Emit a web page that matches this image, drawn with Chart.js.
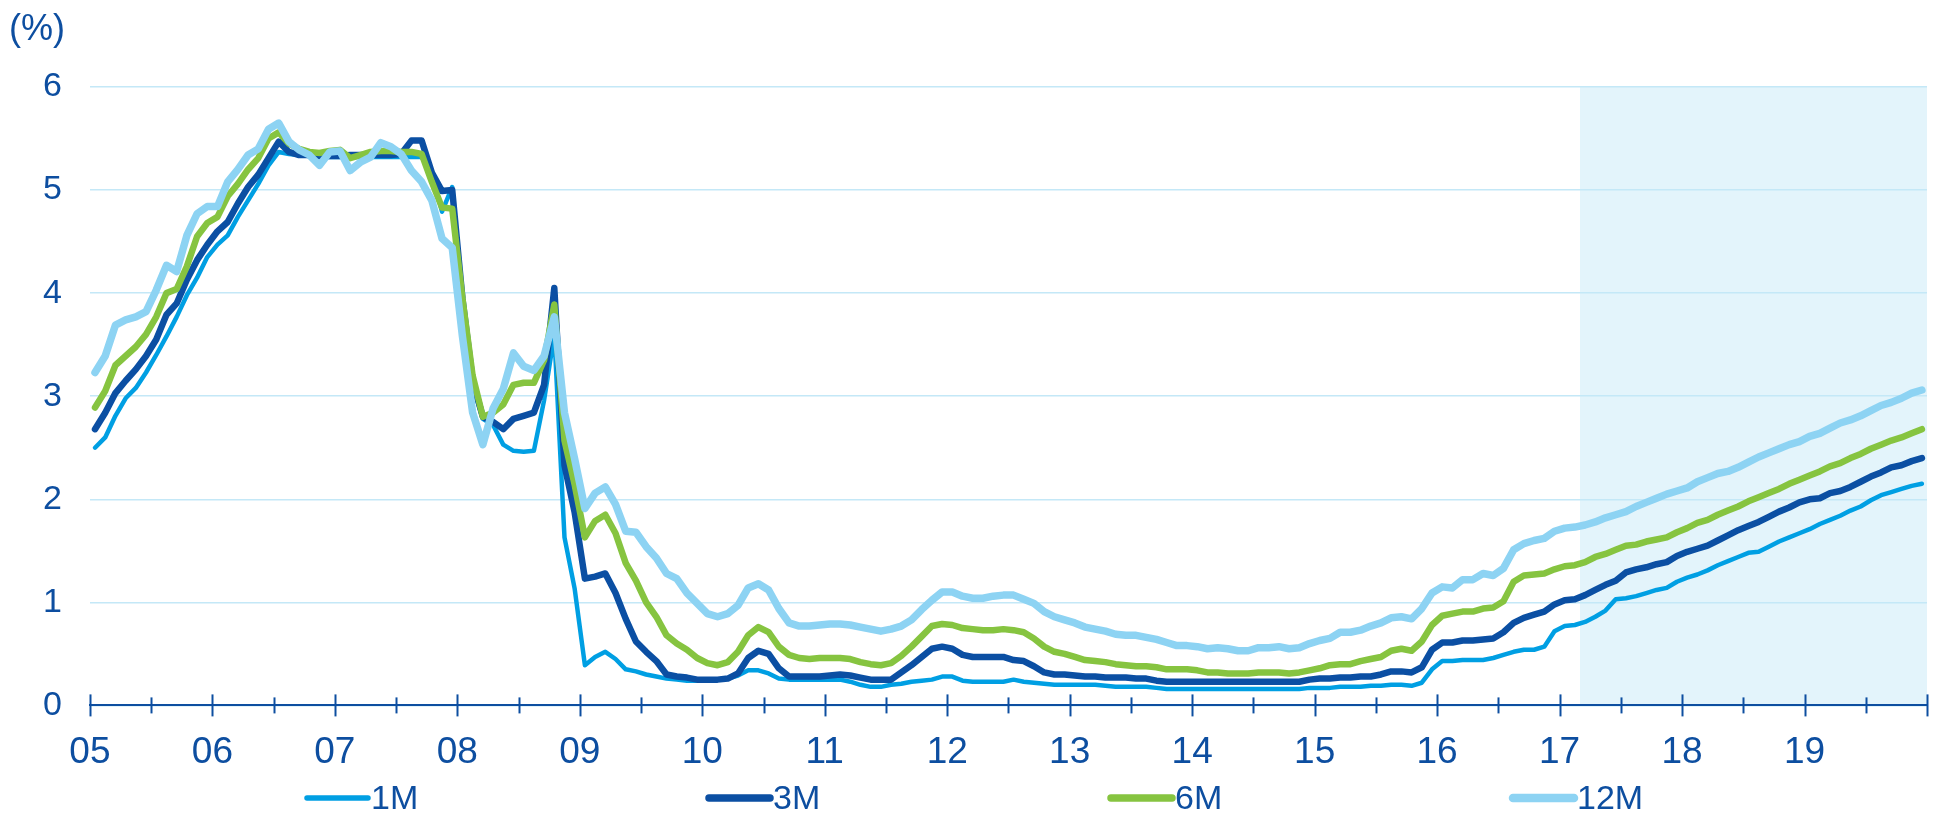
<!DOCTYPE html>
<html>
<head>
<meta charset="utf-8">
<script src="https://cdn.jsdelivr.net/npm/chart.js@4.4.0/dist/chart.umd.min.js"></script>
<style>
    html, body { margin: 0; padding: 0; background: #fff; }
    #wrap { width: 1941px; height: 817px; position: relative; }
</style>
</head>
<body>
<div id="wrap"><canvas id="rateChart"></canvas></div>
<script>
// monthly series, Jan 2005 .. Dec 2019 (one row per year)
const seriesNames = ['1M', '3M', '6M', '12M'];
const yearLabels = ['05', '06', '07', '08', '09', '10', '11', '12', '13', '14', '15', '16', '17', '18', '19'];
const forecastStart = 146; // month index where the shaded part begins (Mar 2017)

const rate1M = [
    2.50, 2.60, 2.81, 2.98, 3.08, 3.23, 3.40, 3.58, 3.77, 3.98, 4.15, 4.35,
    4.47, 4.56, 4.74, 4.90, 5.06, 5.24, 5.37, 5.35, 5.34, 5.33, 5.32, 5.32,
    5.32, 5.32, 5.32, 5.32, 5.32, 5.32, 5.32, 5.32, 5.32, 5.17, 4.79, 5.03,
    3.90, 3.10, 2.78, 2.72, 2.53, 2.47, 2.46, 2.47, 2.96, 3.60, 1.63, 1.13,
    0.39, 0.47, 0.52, 0.45, 0.35, 0.33, 0.30, 0.28, 0.26, 0.25, 0.24, 0.24,
    0.24, 0.25, 0.26, 0.29, 0.34, 0.34, 0.31, 0.26, 0.25, 0.25, 0.25, 0.25,
    0.25, 0.25, 0.23, 0.20, 0.18, 0.18, 0.20, 0.21, 0.23, 0.24, 0.25, 0.28,
    0.28, 0.24, 0.23, 0.23, 0.23, 0.23, 0.25, 0.23, 0.22, 0.21, 0.20, 0.20,
    0.20, 0.20, 0.20, 0.19, 0.18, 0.18, 0.18, 0.18, 0.17, 0.16, 0.16, 0.16,
    0.16, 0.16, 0.16, 0.16, 0.16, 0.16, 0.16, 0.16, 0.16, 0.16, 0.16, 0.17,
    0.17, 0.17, 0.18, 0.18, 0.18, 0.19, 0.19, 0.20, 0.20, 0.19, 0.22, 0.35,
    0.43, 0.43, 0.44, 0.44, 0.44, 0.46, 0.49, 0.52, 0.54, 0.54, 0.57, 0.72,
    0.77, 0.78, 0.81, 0.86, 0.92, 1.03, 1.04, 1.06, 1.09, 1.12, 1.14, 1.20,
    1.24, 1.27, 1.31, 1.36, 1.40, 1.44, 1.48, 1.49, 1.54, 1.59, 1.63, 1.67,
    1.71, 1.76, 1.80, 1.84, 1.89, 1.93, 1.99, 2.04, 2.07, 2.10, 2.13, 2.15
];

const rate3M = [
    2.68, 2.84, 3.03, 3.15, 3.26, 3.39, 3.55, 3.79, 3.90, 4.13, 4.32, 4.47,
    4.60, 4.69, 4.87, 5.03, 5.15, 5.31, 5.47, 5.37, 5.34, 5.34, 5.33, 5.33,
    5.33, 5.34, 5.34, 5.34, 5.34, 5.34, 5.35, 5.48, 5.48, 5.17, 4.99, 5.00,
    3.95, 3.15, 2.80, 2.75, 2.68, 2.78, 2.81, 2.84, 3.11, 4.05, 2.33, 1.87,
    1.23, 1.25, 1.28, 1.09, 0.84, 0.62, 0.52, 0.43, 0.30, 0.28, 0.27, 0.25,
    0.25, 0.25, 0.26, 0.31, 0.46, 0.53, 0.50, 0.36, 0.28, 0.28, 0.28, 0.28,
    0.29, 0.30, 0.29, 0.27, 0.25, 0.25, 0.25, 0.32, 0.39, 0.47, 0.55, 0.57,
    0.55, 0.49, 0.47, 0.47, 0.47, 0.47, 0.44, 0.43, 0.38, 0.32, 0.30, 0.30,
    0.29, 0.28, 0.28, 0.27, 0.27, 0.27, 0.26, 0.26, 0.24, 0.23, 0.23, 0.23,
    0.23, 0.23, 0.23, 0.23, 0.23, 0.23, 0.23, 0.23, 0.23, 0.23, 0.23, 0.25,
    0.26, 0.26, 0.27, 0.27, 0.28, 0.28, 0.30, 0.33, 0.33, 0.32, 0.37, 0.54,
    0.61, 0.61, 0.63, 0.63, 0.64, 0.65, 0.71, 0.80, 0.85, 0.88, 0.91, 0.98,
    1.02, 1.03, 1.07, 1.12, 1.17, 1.21, 1.29, 1.32, 1.34, 1.37, 1.39, 1.45,
    1.49, 1.52, 1.55, 1.60, 1.65, 1.70, 1.74, 1.78, 1.83, 1.88, 1.92, 1.97,
    2.00, 2.01, 2.06, 2.08, 2.12, 2.17, 2.22, 2.26, 2.31, 2.33, 2.37, 2.40
];

const rate6M = [
    2.89, 3.05, 3.30, 3.39, 3.48, 3.60, 3.77, 4.00, 4.04, 4.26, 4.55, 4.68,
    4.74, 4.94, 5.06, 5.20, 5.31, 5.50, 5.56, 5.45, 5.40, 5.37, 5.36, 5.38,
    5.39, 5.31, 5.34, 5.37, 5.38, 5.38, 5.37, 5.37, 5.35, 5.08, 4.83, 4.82,
    3.95, 3.20, 2.80, 2.84, 2.92, 3.11, 3.13, 3.13, 3.35, 3.89, 2.57, 2.14,
    1.63, 1.79, 1.85, 1.67, 1.38, 1.21, 1.00, 0.86, 0.68, 0.60, 0.54, 0.46,
    0.41, 0.39, 0.42, 0.52, 0.68, 0.76, 0.71, 0.57, 0.49, 0.46, 0.45, 0.46,
    0.46, 0.46, 0.45, 0.42, 0.40, 0.39, 0.41, 0.48, 0.57, 0.67, 0.77, 0.79,
    0.78, 0.75, 0.74, 0.73, 0.73, 0.74, 0.73, 0.71, 0.65, 0.57, 0.52, 0.50,
    0.47, 0.44, 0.43, 0.42, 0.40, 0.39, 0.38, 0.38, 0.37, 0.35, 0.35, 0.35,
    0.34, 0.32, 0.32, 0.31, 0.31, 0.31, 0.32, 0.32, 0.32, 0.31, 0.32, 0.34,
    0.36, 0.39, 0.40, 0.40, 0.43, 0.45, 0.47, 0.53, 0.55, 0.53, 0.62, 0.78,
    0.87, 0.89, 0.91, 0.91, 0.94, 0.95, 1.01, 1.20, 1.26, 1.27, 1.28, 1.32,
    1.35, 1.36, 1.39, 1.44, 1.47, 1.51, 1.55, 1.56, 1.59, 1.61, 1.63, 1.68,
    1.72, 1.77, 1.80, 1.85, 1.89, 1.93, 1.98, 2.02, 2.06, 2.10, 2.15, 2.19,
    2.23, 2.27, 2.32, 2.35, 2.40, 2.44, 2.49, 2.53, 2.57, 2.60, 2.64, 2.68
];

const rate12M = [
    3.23, 3.39, 3.69, 3.74, 3.77, 3.82, 4.03, 4.27, 4.21, 4.56, 4.77, 4.84,
    4.84, 5.08, 5.20, 5.34, 5.40, 5.59, 5.65, 5.47, 5.39, 5.34, 5.24, 5.37,
    5.38, 5.19, 5.27, 5.32, 5.46, 5.42, 5.35, 5.19, 5.08, 4.90, 4.53, 4.44,
    3.58, 2.84, 2.53, 2.88, 3.07, 3.42, 3.29, 3.25, 3.39, 3.77, 2.84, 2.39,
    1.91, 2.06, 2.12, 1.95, 1.69, 1.68, 1.54, 1.43, 1.28, 1.23, 1.09, 0.99,
    0.89, 0.86, 0.89, 0.97, 1.14, 1.18, 1.12, 0.94, 0.80, 0.77, 0.77, 0.78,
    0.79, 0.79, 0.78, 0.76, 0.74, 0.72, 0.74, 0.77, 0.83, 0.93, 1.02, 1.10,
    1.10, 1.06, 1.04, 1.04, 1.06, 1.07, 1.07, 1.03, 0.99, 0.91, 0.86, 0.83,
    0.80, 0.76, 0.74, 0.72, 0.69, 0.68, 0.68, 0.66, 0.64, 0.61, 0.58, 0.58,
    0.57, 0.55, 0.56, 0.55, 0.53, 0.53, 0.56, 0.56, 0.57, 0.55, 0.56, 0.60,
    0.63, 0.65, 0.71, 0.71, 0.73, 0.77, 0.80, 0.85, 0.86, 0.84, 0.94, 1.09,
    1.15, 1.14, 1.22, 1.22, 1.28, 1.26, 1.33, 1.51, 1.57, 1.60, 1.62, 1.69,
    1.72, 1.73, 1.75, 1.78, 1.82, 1.85, 1.88, 1.93, 1.97, 2.01, 2.05, 2.08,
    2.11, 2.17, 2.21, 2.25, 2.27, 2.31, 2.36, 2.41, 2.45, 2.49, 2.53, 2.56,
    2.61, 2.64, 2.69, 2.74, 2.77, 2.81, 2.86, 2.91, 2.94, 2.98, 3.03, 3.06
];

const textBlue = '#0d4ea0';
const fontFamily = '"Liberation Sans", Arial, sans-serif';

function toPoints(values) {
    // each monthly value sits in the middle of its month
    return values.map((v, i) => ({ x: i + 0.5, y: v }));
}

function makeDataset(label, values, color, width, order) {
    return {
        label: label,
        data: toPoints(values),
        borderColor: color,
        backgroundColor: color,
        borderWidth: width,
        pointRadius: 0,
        tension: 0,
        fill: false,
        borderJoinStyle: 'round',
        borderCapStyle: 'round',
        order: order
    };
}

const chartDecor = {
    id: 'chartDecor',
    beforeDraw(chart) {
        const { ctx, chartArea, scales } = chart;
        let xStart = scales.x.getPixelForValue(forecastStart);
        ctx.save();
        ctx.fillStyle = '#e3f4fb';
        ctx.fillRect(xStart, chartArea.top, chartArea.right - xStart, chartArea.bottom - chartArea.top);
        ctx.restore();
    },
    afterDraw(chart) {
        const { ctx, chartArea, scales } = chart;
        let xScale = scales.x;
        let axisY = chartArea.bottom;

        ctx.save();
        // tick marks crossing the axis, every half year
        ctx.strokeStyle = textBlue;
        ctx.lineWidth = 2;
        for (let m = 0; m <= yearLabels.length * 12; m += 6) {
            let px = Math.round(xScale.getPixelForValue(m)) + 0.5;
            let half = (m % 12 === 0) ? 11 : 8;
            ctx.beginPath();
            ctx.moveTo(px, axisY - half);
            ctx.lineTo(px, axisY + half);
            ctx.stroke();
        }

        // unit label
        ctx.fillStyle = textBlue;
        ctx.font = '36px ' + fontFamily;
        ctx.textAlign = 'left';
        ctx.textBaseline = 'middle';
        ctx.fillText('(%)', 9, 30);

        // legend
        ctx.font = '34px ' + fontFamily;
        ctx.lineCap = 'round';
        let legendX = 304, legendStep = 402, legendY = 798;
        chart.data.datasets.forEach((ds, i) => {
            let x0 = legendX + i * legendStep;
            ctx.strokeStyle = ds.borderColor;
            ctx.lineWidth = ds.borderWidth + 1;
            ctx.beginPath();
            ctx.moveTo(x0 + 3, legendY);
            ctx.lineTo(x0 + 64, legendY);
            ctx.stroke();
            ctx.fillStyle = textBlue;
            ctx.fillText(ds.label, x0 + 67, legendY + 2);
        });
        ctx.restore();
    }
};

let ctx = document.getElementById('rateChart');

new Chart(ctx, {
    type: 'line',
    data: {
        datasets: [
            makeDataset(seriesNames[0], rate1M, '#009fe3', 4.5, 4),
            makeDataset(seriesNames[1], rate3M, '#0b4fa3', 6.5, 3),
            makeDataset(seriesNames[2], rate6M, '#86c440', 6.5, 2),
            makeDataset(seriesNames[3], rate12M, '#8dd3f3', 7.5, 1)
        ]
    },
    options: {
        maintainAspectRatio: false,
        responsive: true,
        animation: false,
        devicePixelRatio: 1,
        layout: {
            padding: { left: 15, right: 14, top: 87, bottom: 17 }
        },
        plugins: {
            legend: { display: false },
            tooltip: { enabled: false }
        },
        scales: {
            x: {
                type: 'linear',
                min: 0,
                max: yearLabels.length * 12,
                grid: { display: false, drawTicks: false },
                border: { display: true, color: textBlue, width: 2 },
                ticks: {
                    stepSize: 12,
                    autoSkip: false,
                    maxRotation: 0,
                    padding: 14,
                    color: textBlue,
                    font: { family: fontFamily, size: 37, lineHeight: 1.8 },
                    callback: (value) => yearLabels[value / 12] || ''
                }
            },
            y: {
                min: 0,
                max: 6,
                grid: { color: '#c4e8f7', lineWidth: 1.5, drawTicks: false },
                border: { display: false },
                ticks: {
                    stepSize: 1,
                    padding: 28,
                    color: textBlue,
                    font: { family: fontFamily, size: 34 }
                }
            }
        }
    },
    plugins: [chartDecor]
});
</script>
</body>
</html>
